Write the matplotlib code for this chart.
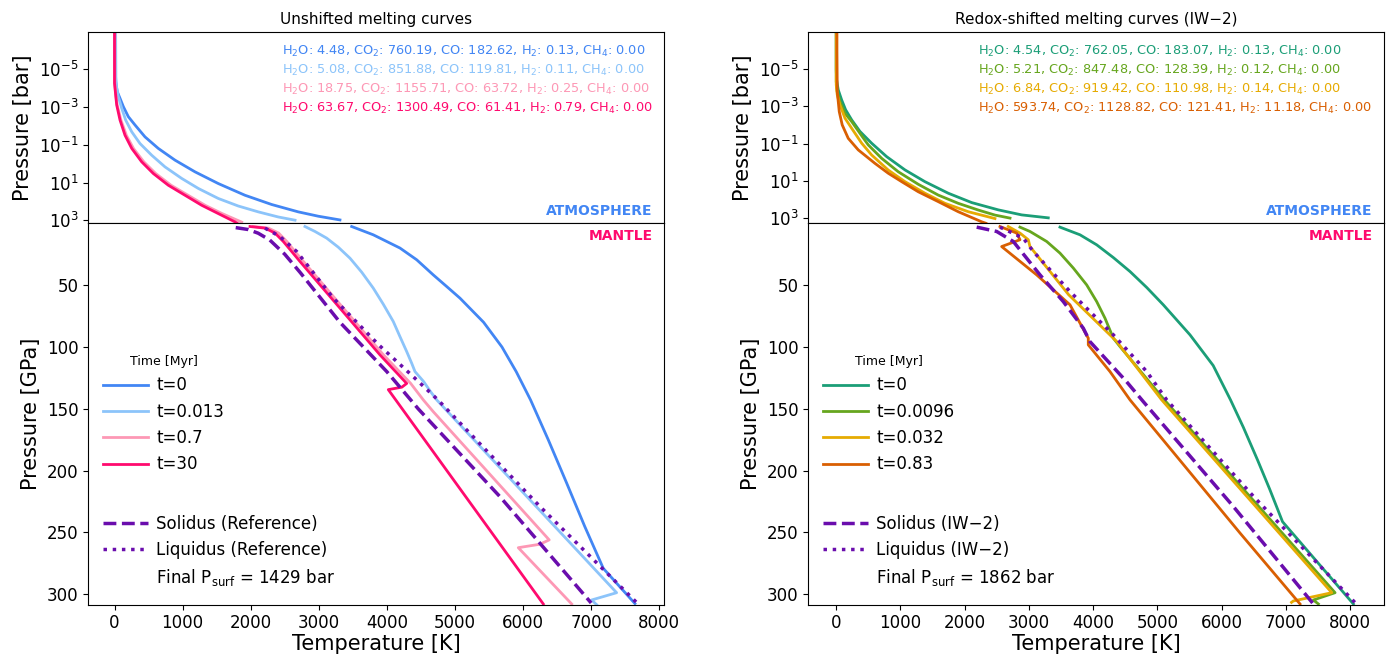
import numpy as np
import matplotlib.pyplot as plt
from matplotlib.lines import Line2D

# ---------------- data: left panel (reference melting curves) ----------------
times_ref = ["t=0", "t=0.013", "t=0.7", "t=30"]
colors_ref = ["#4286f4", "#8cc4fa", "#fd98b5", "#ff0a6e"]

# atmosphere: T [K] vs log10 P [bar]
atm_T_ref = [
    [7, 7, 17, 41, 81, 130, 203, 301, 448, 643, 888, 1182, 1524, 1916, 2308, 2699, 2993, 3311],
    [15, 20, 32, 56, 106, 164, 253, 374, 546, 742, 987, 1231, 1524, 1818, 2112, 2405, 2651],
    [5, 5, 20, 40, 95, 175, 280, 430, 605, 830, 1080, 1330, 1580, 1868],
    [0, 0, 17, 32, 81, 154, 253, 399, 570, 790, 1035, 1280, 1524, 1769, 1800],
]
atm_logP_ref = [
    [-8, -5.58, -4.34, -3.81, -3.46, -3.02, -2.49, -2.05, -1.42, -0.81, -0.19, 0.43, 1.05, 1.67,
     2.16, 2.55, 2.78, 2.977],
    [-8, -4.6, -3.99, -3.55, -2.93, -2.31, -1.69, -1.07, -0.45, 0.17, 0.78, 1.31, 1.84, 2.24,
     2.55, 2.82, 2.99],
    [-8, -4.2, -3.6, -3.1, -2.3, -1.5, -0.8, -0.1, 0.52, 1.14, 1.67, 2.2, 2.64, 3.093],
    [-8, -4.26, -3.64, -3.11, -2.31, -1.51, -0.81, -0.1, 0.52, 1.14, 1.67, 2.2, 2.64, 3.08, 3.154],
]
# mantle: T [K] vs P [GPa]
man_T_ref = [
    [3483, 3800, 4192, 4438, 4681, 4878, 5073, 5420, 5690, 5900, 6110, 6370, 6640, 6905, 7178, 7643],
    [2797, 2944, 3116, 3286, 3458, 3630, 3800, 3947, 4094, 4192, 4291, 4364, 4413, 4540, 4640,
     4735, 7374, 7007, 7081],
    [2040, 2260, 2410, 2530, 2650, 2775, 3360, 3950, 4350, 4535, 4681, 6384, 6248, 5930, 6714],
    [1990, 2210, 2357, 2479, 2602, 2724, 3311, 3899, 4291, 4220, 4021, 6297],
]
man_P_ref = [
    [2.6, 9.3, 20, 29.5, 41.7, 51.1, 60.5, 80, 100, 120, 142.8, 175, 210, 245, 279, 307.5],
    [2.6, 6.6, 12, 19.3, 28.2, 39.5, 52.4, 65.4, 79.4, 91.6, 103.7, 113.1, 119.9, 128, 136,
     143, 298.7, 304.6, 308.4],
    [2.6, 3.9, 7.9, 14.7, 22.8, 30.9, 68.6, 106.4, 129.5, 142.8, 152.3, 256, 259.5, 262.3, 307.8],
    [2.6, 3.9, 7.9, 14.7, 22.8, 30.9, 68.6, 106.4, 129.5, 132.5, 134.5, 307.8],
]
solidus_ref_P = [3.5, 5.0, 8.0, 13.5, 25, 40, 80, 120, 150, 221, 307]
solidus_ref_T = [1780, 1960, 2110, 2280, 2500, 2730, 3310, 4000, 4460, 5660, 7000]
liquidus_ref_P = [3.9, 10.7, 22.8, 60.5, 98.3, 122.6, 142.8, 229, 308.4]
liquidus_ref_T = [2210, 2430, 2675, 3213, 3880, 4360, 4750, 6248, 7700]
gas_ref = [
    "H$_2$O: 4.48, CO$_2$: 760.19, CO: 182.62, H$_2$: 0.13, CH$_4$: 0.00",
    "H$_2$O: 5.08, CO$_2$: 851.88, CO: 119.81, H$_2$: 0.11, CH$_4$: 0.00",
    "H$_2$O: 18.75, CO$_2$: 1155.71, CO: 63.72, H$_2$: 0.25, CH$_4$: 0.00",
    "H$_2$O: 63.67, CO$_2$: 1300.49, CO: 61.41, H$_2$: 0.79, CH$_4$: 0.00",
]
psurf_ref = 1429

# ---------------- data: right panel (IW-2 shifted) ----------------
times_iw = ["t=0", "t=0.0096", "t=0.032", "t=0.83"]
colors_iw = ["#1b9e77", "#66a61e", "#e6ab02", "#d95f02"]

atm_T_iw = [
    [0, 0, 6, 31, 84, 146, 240, 369, 551, 785, 1070, 1381, 1745, 2109, 2523, 2888, 3302],
    [0, 0, 16, 58, 136, 240, 369, 498, 707, 966, 1277, 1589, 1900, 2212, 2472, 2706],
    [0, 0, 16, 58, 136, 240, 396, 551, 810, 1070, 1382, 1693, 2056, 2472],
    [11, 11, 16, 47, 93, 187, 343, 603, 810, 1019, 1277, 1589, 1900, 2265, 2330],
]
atm_logP_iw = [
    [-8, -4.95, -4.41, -3.88, -3.34, -2.81, -2.27, -1.65, -1.02, -0.30, 0.41, 1.04, 1.66, 2.16,
     2.55, 2.82, 2.978],
    [-8, -4.32, -3.78, -3.25, -2.62, -2.18, -1.55, -0.93, -0.21, 0.51, 1.18, 1.76, 2.20, 2.56,
     2.83, 2.992],
    [-8, -4.14, -3.61, -3.07, -2.36, -1.82, -1.02, -0.39, 0.42, 1.04, 1.66, 2.20, 2.65, 3.016],
    [-8, -6, -3.78, -2.71, -2.0, -1.28, -0.66, 0.06, 0.59, 1.04, 1.58, 2.11, 2.65, 3.19, 3.268],
]
man_T_iw = [
    [3484, 3796, 4056, 4315, 4575, 4835, 5093, 5302, 5509, 5870, 6140, 6340, 6560, 6750, 6950, 8053],
    [2861, 3017, 3277, 3484, 3692, 3900, 4056, 4185, 4315, 4419, 5110, 7768, 7430, 7508],
    [2679, 2861, 2991, 3017, 3620, 4368, 5068, 7717, 7118, 7090],
    [2550, 2810, 2861, 2576, 3121, 3640, 3925, 3925, 4263, 4575, 6290, 7222],
]
man_P_iw = [
    [3.1, 9.3, 17.4, 27.7, 39, 51.9, 65.9, 78.1, 90.2, 115, 142.8, 165, 191.3, 215, 241.3, 307.8],
    [3.1, 6.6, 14.7, 24.1, 36.2, 49.8, 63.3, 76.7, 92.9, 99.7, 142.8, 298.7, 304.6, 307.8],
    [2.6, 7.9, 13.3, 18.8, 57.8, 95.6, 142.8, 298.7, 305.4, 306.5],
    [2.6, 7.9, 13.3, 18.8, 41.7, 65.9, 92.9, 98.3, 119.9, 142.8, 250.6, 307.8],
]
solidus_iw_P = [3.1, 6.6, 14.7, 41.7, 63.3, 84.8, 95.6, 128, 144.2, 229, 307.8]
solidus_iw_T = [2187, 2498, 2757, 3173, 3536, 3847, 3950, 4520, 4782, 6184, 7430]
liquidus_iw_P = [3.1, 12, 22.8, 55.2, 90.2, 119.9, 142.8, 221, 308.4]
liquidus_iw_T = [2550, 2913, 3069, 3640, 4315, 4835, 5146, 6500, 8110]
gas_iw = [
    "H$_2$O: 4.54, CO$_2$: 762.05, CO: 183.07, H$_2$: 0.13, CH$_4$: 0.00",
    "H$_2$O: 5.21, CO$_2$: 847.48, CO: 128.39, H$_2$: 0.12, CH$_4$: 0.00",
    "H$_2$O: 6.84, CO$_2$: 919.42, CO: 110.98, H$_2$: 0.14, CH$_4$: 0.00",
    "H$_2$O: 593.74, CO$_2$: 1128.82, CO: 121.41, H$_2$: 11.18, CH$_4$: 0.00",
]
psurf_iw = 1862

MELT = "#6a0dad"
W, H = 1395, 655
fig = plt.figure(figsize=(W / 100, H / 100), dpi=100)


def panel(x_left, xlim, title, times, colors, atm_T, atm_logP, man_T, man_P,
          sol_T, sol_P, liq_T, liq_P, gas, psurf, tag):
    wid = 575.7 / W
    ax_top = fig.add_axes([x_left / W, 1 - 223.3 / H, wid, 191 / H])
    ax_bot = fig.add_axes([x_left / W, 1 - 604.7 / H, wid, 381.4 / H], sharex=ax_top)

    for i in range(len(times)):
        ax_top.plot(atm_T[i], np.power(10.0, atm_logP[i]), color=colors[i], lw=2)
        ax_bot.plot(man_T[i], man_P[i], color=colors[i], lw=2)
    ax_bot.plot(sol_T, sol_P, color=MELT, lw=2.5, ls="--")
    ax_bot.plot(liq_T, liq_P, color=MELT, lw=2.5, ls=":")

    ax_top.set_yscale("log")
    ax_top.set_ylim(psurf, 1.1e-7)
    ax_top.set_yticks([1e-5, 1e-3, 1e-1, 1e1, 1e3])
    ax_top.yaxis.set_minor_locator(plt.NullLocator())
    ax_top.tick_params(axis="x", bottom=False, labelbottom=False)
    ax_top.tick_params(labelsize=12)
    ax_top.set_ylabel("Pressure [bar]", fontsize=15)
    ax_top.set_title(title, fontsize=11)
    ax_top.text(0.98, 0.03, "ATMOSPHERE", transform=ax_top.transAxes, ha="right",
                va="bottom", color="#4286f4", fontweight="bold", fontsize=10)

    ax_top.legend([Line2D([], [], lw=0)] * len(gas), gas, loc="upper right",
                  frameon=False, fontsize=9.3, handlelength=0, handletextpad=0,
                  labelspacing=0.3, labelcolor=colors)

    ax_bot.set_xlim(*xlim)
    ax_bot.set_ylim(308.4, 0)
    ax_bot.set_yticks([50, 100, 150, 200, 250, 300])
    ax_bot.set_xticks(range(0, 8001, 1000))
    ax_bot.tick_params(labelsize=12)
    ax_bot.set_xlabel("Temperature [K]", fontsize=15, labelpad=1)
    ax_bot.set_ylabel("Pressure [GPa]", fontsize=15)
    ax_bot.text(0.98, 0.985, "MANTLE", transform=ax_bot.transAxes, ha="right",
                va="top", color="#ff0a6e", fontweight="bold", fontsize=10)

    h1 = [Line2D([], [], color=c, lw=2) for c in colors]
    leg1 = ax_bot.legend(h1, times, title="Time [Myr]", title_fontsize=9,
                         loc="upper left", bbox_to_anchor=(0.014, 0.672),
                         borderaxespad=0, frameon=False, fontsize=12,
                         handlelength=2.7, handletextpad=0.5)
    ax_bot.add_artist(leg1)
    h2 = [Line2D([], [], color=MELT, lw=2.5, ls="--"),
          Line2D([], [], color=MELT, lw=2.5, ls=":"),
          Line2D([], [], lw=0)]
    l2 = ["Solidus (%s)" % tag, "Liquidus (%s)" % tag,
          r"Final P$_{\rm surf}$ = %d bar" % psurf]
    ax_bot.legend(h2, l2, loc="lower left", bbox_to_anchor=(0.014, 0.025),
                  borderaxespad=0, frameon=False, fontsize=12,
                  handlelength=2.7, handletextpad=0.5)


panel(88.3, (-385, 8070), "Unshifted melting curves", times_ref, colors_ref,
      atm_T_ref, atm_logP_ref, man_T_ref, man_P_ref,
      solidus_ref_T, solidus_ref_P, liquidus_ref_T, liquidus_ref_P,
      gas_ref, psurf_ref, "Reference")
panel(808.3, (-435, 8530), "Redox-shifted melting curves (IW\u22122)", times_iw, colors_iw,
      atm_T_iw, atm_logP_iw, man_T_iw, man_P_iw,
      solidus_iw_T, solidus_iw_P, liquidus_iw_T, liquidus_iw_P,
      gas_iw, psurf_iw, "IW\u22122")

fig.savefig("out.png", dpi=100)
